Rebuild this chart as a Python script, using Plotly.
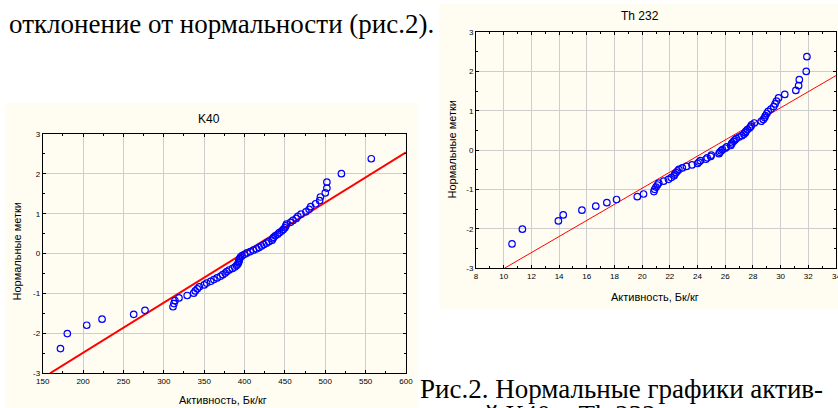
import plotly.graph_objects as go

W, H = 838, 408

# ---- data ----
normal_scores = [
    -2.38, -2.005, -1.795, -1.643, -1.522, -1.42, -1.331, -1.251, -1.178, -1.111,
    -1.049, -0.991, -0.935, -0.882, -0.833, -0.785, -0.739, -0.694, -0.65, -0.608,
    -0.567, -0.526, -0.487, -0.448, -0.41, -0.372, -0.335, -0.299, -0.263, -0.227,
    -0.192, -0.157, -0.122, -0.087, -0.052, -0.017, 0.017, 0.052, 0.087, 0.122,
    0.157, 0.192, 0.227, 0.263, 0.299, 0.335, 0.372, 0.41, 0.448, 0.487,
    0.526, 0.567, 0.608, 0.65, 0.694, 0.739, 0.785, 0.833, 0.882, 0.935,
    0.991, 1.049, 1.111, 1.178, 1.251, 1.331, 1.42, 1.522, 1.643, 1.795,
    2.005, 2.38,
]

k40_activity = [
    172, 180.5, 204.5, 223.5, 262.7, 276.7, 311.4, 312.6, 313.8, 318.8,
    329, 337, 339, 341.5, 344, 350, 353, 358, 362, 366,
    370, 373, 376, 378, 381, 385, 388, 390, 391.5, 392.5,
    393, 393.5, 394, 395, 397, 400, 403, 407, 411, 415,
    418, 421, 424, 427, 430, 434, 435, 436, 438, 441,
    443, 446, 448, 450, 451, 452, 457, 460, 464, 466,
    470, 476, 480, 482, 488, 493, 494, 500, 502, 502,
    520, 557,
]

th232_activity = [
    10.6, 11.35, 13.95, 14.3, 15.65, 16.65, 17.45, 18.15, 19.65, 20.1,
    20.85, 20.9, 21.0, 21.1, 21.2, 21.55, 21.9, 22.1, 22.3, 22.35,
    22.45, 22.55, 22.65, 22.9, 23.2, 23.6, 24.0, 24.1, 24.2, 24.6,
    24.7, 24.95, 25.0, 25.55, 25.6, 25.7, 25.8, 26.0, 26.1, 26.4,
    26.45, 26.5, 26.6, 26.7, 26.8, 27.0, 27.2, 27.35, 27.45, 27.5,
    27.6, 27.75, 27.85, 27.9, 28.1, 28.6, 28.75, 28.85, 28.9, 29.0,
    29.1, 29.3, 29.5, 29.6, 29.7, 29.85, 30.3, 31.1, 31.3, 31.35,
    31.85, 31.9,
]

k40_fit_x = [159, 600]
k40_fit_y = [-3, 2.54]
th_fit_x = [10.05, 34]
th_fit_y = [-3, 1.9]

k40_xticks = [150, 200, 250, 300, 350, 400, 450, 500, 550, 600]
th_xticks = [8, 10, 12, 14, 16, 18, 20, 22, 24, 26, 28, 30, 32, 34]
y_ticks = [-3, -2, -1, 0, 1, 2, 3]

title_k40 = "K40"
title_th = "Th 232"
x_title = "Активность, Бк/кг"
y_title = "Нормальные метки"
body_text = "отклонение от нормальности (рис.2)."
caption_1 = "Рис.2. Нормальные графики актив-"
caption_2 = "ностей К40 и Th 232"

# ---- styling ----
CREAM = "#FFFCF1"
GRID = "#CDCDCD"
SANS = "Liberation Sans, Arial, sans-serif"
SERIF = "Liberation Serif, Times New Roman, serif"


def px(x):
    return x / W


def py(y):
    return 1 - y / H


fig = go.Figure()

fig.add_trace(go.Scatter(
    x=k40_fit_x, y=k40_fit_y, mode="lines",
    line=dict(color="#FF0000", width=2), xaxis="x", yaxis="y", showlegend=False))
fig.add_trace(go.Scatter(
    x=k40_activity, y=normal_scores, mode="markers",
    marker=dict(symbol="circle-open", size=6.5, color="#0000FF", line=dict(width=1.2, color="#0000FF")),
    xaxis="x", yaxis="y", showlegend=False))

fig.add_trace(go.Scatter(
    x=th_fit_x, y=th_fit_y, mode="lines",
    line=dict(color="#FF0000", width=1), xaxis="x2", yaxis="y2", showlegend=False))
fig.add_trace(go.Scatter(
    x=th232_activity, y=normal_scores, mode="markers",
    marker=dict(symbol="circle-open", size=6.5, color="#0000FF", line=dict(width=1.2, color="#0000FF")),
    xaxis="x2", yaxis="y2", showlegend=False))


def axis(domain, rng, ticks, dtick_minor, tick0, anchor):
    return dict(
        domain=domain, range=rng, tickmode="array", tickvals=ticks,
        ticktext=[str(t) for t in ticks],
        showgrid=True, gridcolor=GRID, gridwidth=1,
        zeroline=False, showline=True, linecolor="#000000", linewidth=1,
        mirror="ticks", ticks="inside", ticklen=3, tickcolor="#000000",
        minor=dict(ticks="inside", ticklen=2, dtick=dtick_minor, tick0=tick0,
                   tickcolor="#000000", showgrid=False),
        tickfont=dict(family=SANS, size=8, color="#000000"),
        anchor=anchor, fixedrange=True, automargin=False,
    )


k40_dom_x = [px(42.7), px(406)]
k40_dom_y = [py(373.3), py(134)]
th_dom_x = [px(476), px(836)]
th_dom_y = [py(268.3), py(32.3)]

xa1 = axis(k40_dom_x, [150, 600], k40_xticks, 25, 150, "y")
ya1 = axis(k40_dom_y, [-3, 3], y_ticks, 0.5, -3, "x")
xa2 = axis(th_dom_x, [8, 34], th_xticks, 1, 8, "y2")
ya2 = axis(th_dom_y, [-3, 3], y_ticks, 0.5, -3, "x2")

shapes = [
    dict(type="rect", xref="paper", yref="paper", x0=px(6), x1=px(418), y0=py(408), y1=py(103),
         fillcolor=CREAM, line=dict(width=0), layer="below"),
    dict(type="rect", xref="paper", yref="paper", x0=px(439.5), x1=px(838), y0=py(309), y1=py(4),
         fillcolor=CREAM, line=dict(width=0), layer="below"),
]


def ann(text, x, y, size, family=SANS, angle=0, xanchor="center"):
    return dict(text=text, x=px(x), y=py(y), xref="paper", yref="paper", showarrow=False,
                xanchor=xanchor, yanchor="middle", textangle=angle,
                font=dict(family=family, size=size, color="#000000"))


annotations = [
    ann(title_k40, 209, 119, 12),
    ann(title_th, 640, 16.5, 12),
    ann(x_title, 223, 400, 11),
    ann(x_title, 655, 297, 11),
    ann(y_title, 16.5, 252, 11, angle=-90),
    ann(y_title, 451.5, 150, 11, angle=-90),
    ann(body_text, 7, 24, 27, family=SERIF, xanchor="left"),
    ann(caption_1, 418, 389, 27, family=SERIF, xanchor="left"),
    ann(caption_2, 418, 415, 27, family=SERIF, xanchor="left"),
    # last tick label of the Th axis, cut by the page edge as in the source
    dict(text=str(th_xticks[-1]), x=th_xticks[-1], y=py(276.5), xref="x2", yref="paper",
         showarrow=False, xanchor="center", yanchor="middle",
         font=dict(family=SANS, size=8, color="#000000")),
]

fig.update_layout(
    width=W, height=H, margin=dict(l=0, r=0, t=0, b=0, pad=0),
    paper_bgcolor="#FFFFFF", plot_bgcolor=CREAM,
    xaxis=xa1, yaxis=ya1, xaxis2=xa2, yaxis2=ya2,
    shapes=shapes, annotations=annotations, showlegend=False,
)

fig.write_html(
    "out.html",
    config={"displayModeBar": False},
    post_script="document.body.style.margin='0';document.body.style.padding='0';"
                "document.body.style.overflow='hidden';",
)
